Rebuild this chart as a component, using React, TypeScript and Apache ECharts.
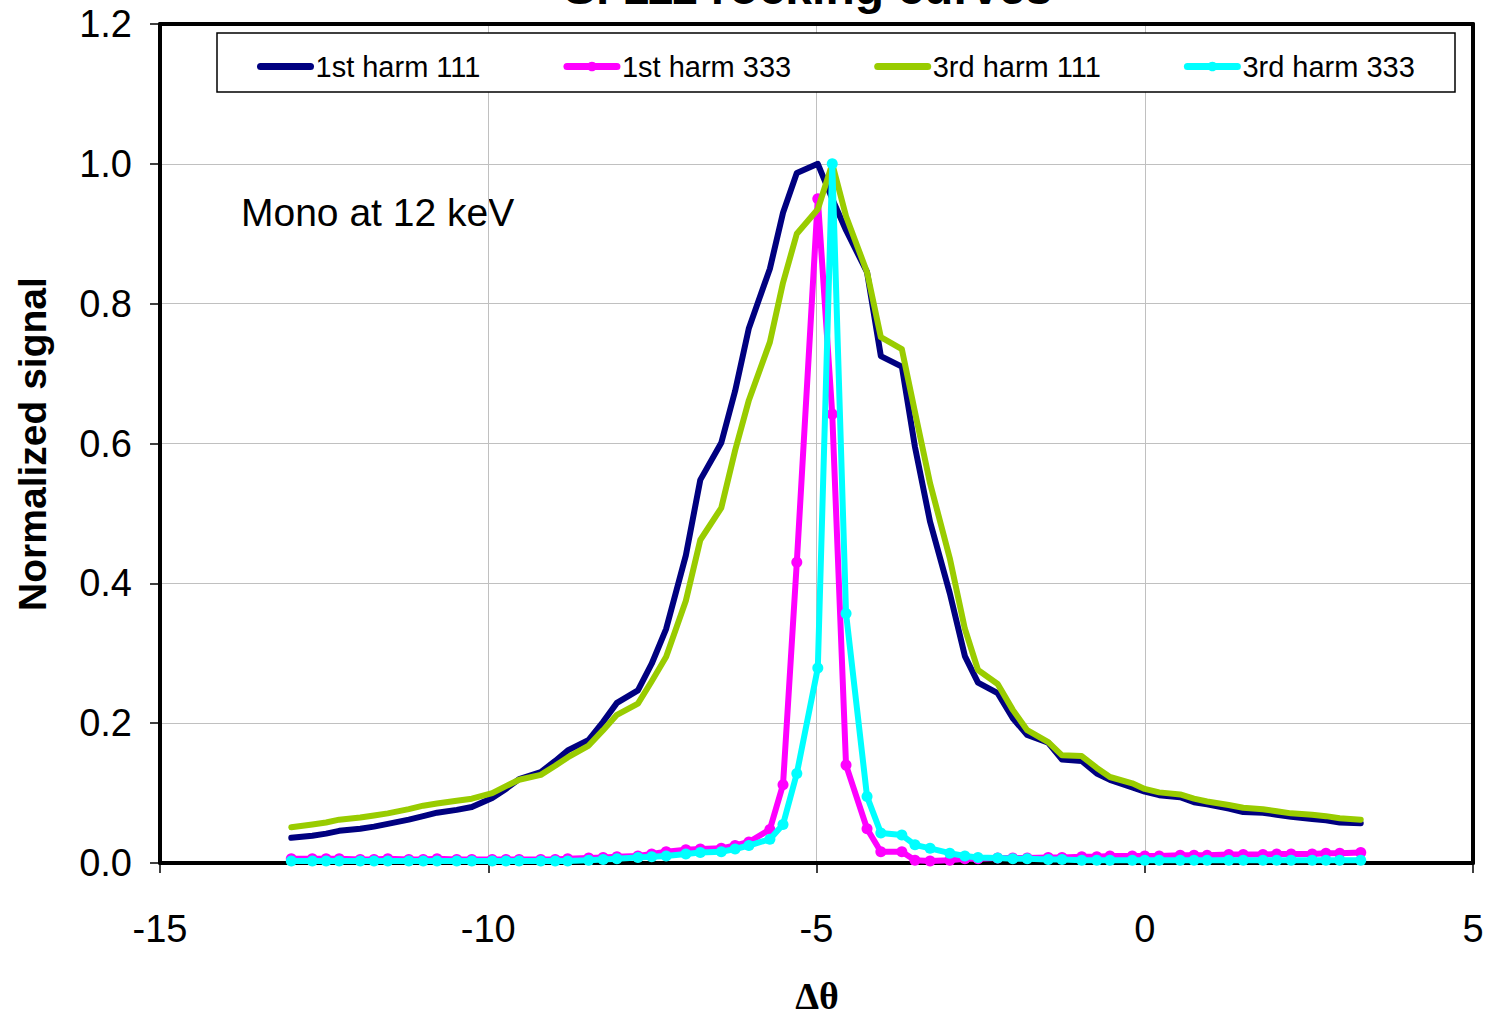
import React, { useEffect, useRef } from "react";
import * as echarts from "echarts";

const TITLE = "Si 111 rocking curves";
const ANNOTATION = "Mono at 12 keV";
const X_NAME = "Δθ";
const Y_NAME = "Normalized signal";
const SERIES_NAMES = ["1st harm 111", "1st harm 333", "3rd harm 111", "3rd harm 333"];
const SERIES_COLORS = ["#000080", "#FF00FF", "#99CC00", "#00FFFF"];
const SERIES_MARKERS = [false, true, false, true];

const X_TICKS_MIN = -15;
const X_TICKS_MAX = 5;
const X_TICK_STEP = 5;
const Y_TICKS_MIN = 0;
const Y_TICKS_MAX = 1.2;
const Y_TICK_STEP = 0.2;

const deltaTheta = [
  -13.0, -12.68, -12.47, -12.27, -11.95, -11.74, -11.53, -11.21, -10.99, -10.78,
  -10.48, -10.25, -9.94, -9.73, -9.53, -9.2, -8.98, -8.79, -8.47, -8.25,
  -8.04, -7.72, -7.51, -7.29, -6.99, -6.77, -6.45, -6.24, -6.03, -5.71,
  -5.51, -5.3, -4.98, -4.76, -4.55, -4.23, -4.02, -3.7, -3.5, -3.27,
  -2.97, -2.74, -2.54, -2.24, -2.01, -1.79, -1.47, -1.26, -0.96, -0.73,
  -0.53, -0.19, 0.0, 0.22, 0.54, 0.75, 0.95, 1.28, 1.5, 1.8,
  2.01, 2.23, 2.55, 2.76, 2.97, 3.29,
];

const harm1_111 = [
  0.036, 0.039, 0.042, 0.046, 0.049, 0.052, 0.056, 0.062, 0.067, 0.072,
  0.076, 0.08, 0.093, 0.106, 0.12, 0.13, 0.146, 0.161, 0.176, 0.202,
  0.229, 0.247, 0.285, 0.335, 0.44, 0.548, 0.601, 0.675, 0.765, 0.85,
  0.93, 0.987, 1.0, 0.95, 0.905, 0.845, 0.725, 0.71, 0.595, 0.488,
  0.386, 0.296, 0.258, 0.243, 0.207, 0.183, 0.172, 0.148, 0.146, 0.128,
  0.119, 0.108, 0.102, 0.097, 0.094, 0.087, 0.084, 0.078, 0.073, 0.072,
  0.069, 0.066, 0.063, 0.061, 0.058, 0.057,
];

const harm1_333 = [
  0.006, 0.006, 0.006, 0.006, 0.005, 0.005, 0.006, 0.005, 0.005, 0.006,
  0.005, 0.005, 0.005, 0.005, 0.005, 0.005, 0.005, 0.006, 0.007, 0.008,
  0.009, 0.01, 0.013, 0.016, 0.019, 0.02, 0.021, 0.025, 0.03, 0.048,
  0.112, 0.43, 0.95, 0.642, 0.14, 0.049, 0.016, 0.016, 0.004, 0.003,
  0.004, 0.006, 0.006, 0.007, 0.007, 0.007, 0.008, 0.008, 0.009, 0.009,
  0.01, 0.01, 0.01, 0.01, 0.011, 0.011, 0.011, 0.012, 0.012, 0.012,
  0.013, 0.013, 0.013, 0.014, 0.014, 0.015,
];

const harm3_111 = [
  0.051, 0.055, 0.058, 0.062, 0.065, 0.068, 0.071, 0.077, 0.082, 0.085,
  0.089, 0.092, 0.1, 0.11, 0.119, 0.126, 0.139, 0.151, 0.168, 0.19,
  0.212, 0.228, 0.26, 0.295, 0.375, 0.462, 0.508, 0.59, 0.662, 0.745,
  0.83, 0.9, 0.935, 1.0, 0.925, 0.845, 0.752, 0.735, 0.645, 0.543,
  0.436, 0.335, 0.276, 0.256, 0.219, 0.19, 0.173, 0.154, 0.153, 0.136,
  0.123, 0.114, 0.106, 0.101, 0.098, 0.092, 0.088, 0.083, 0.079, 0.077,
  0.074, 0.071, 0.069, 0.067, 0.064, 0.062,
];

const harm3_333 = [
  0.003, 0.003, 0.003, 0.003, 0.003, 0.003, 0.003, 0.003, 0.003, 0.003,
  0.003, 0.003, 0.003, 0.003, 0.003, 0.003, 0.003, 0.003, 0.004, 0.005,
  0.006, 0.008, 0.009, 0.01, 0.013, 0.015, 0.016, 0.02, 0.025, 0.034,
  0.055, 0.128, 0.279, 1.0, 0.357, 0.095, 0.043, 0.04, 0.026, 0.021,
  0.014, 0.01, 0.008, 0.007, 0.006, 0.006, 0.005, 0.005, 0.004, 0.004,
  0.004, 0.004, 0.004, 0.004, 0.004, 0.004, 0.004, 0.004, 0.004, 0.004,
  0.004, 0.004, 0.004, 0.004, 0.004, 0.004,
];

const SERIES_VALUES = [harm1_111, harm1_333, harm3_111, harm3_333];

const SANS = '"Liberation Sans", Arial, sans-serif';
const SERIF = '"Liberation Serif", "Times New Roman", serif';

export default function App() {
  const ref = useRef<HTMLDivElement | null>(null);

  useEffect(() => {
    if (!ref.current) return;
    const chart = echarts.init(ref.current, undefined, { renderer: "svg" });

    const series = SERIES_NAMES.map((name, i) => ({
      name,
      type: "line",
      xAxisIndex: 0,
      yAxisIndex: 0,
      data: deltaTheta.map((x, j) => [x, SERIES_VALUES[i][j]]),
      symbol: SERIES_MARKERS[i] ? "circle" : "none",
      symbolSize: 11,
      showSymbol: SERIES_MARKERS[i],
      showAllSymbol: true,
      lineStyle: { color: SERIES_COLORS[i], width: 6, cap: "round", join: "round" },
      itemStyle: { color: SERIES_COLORS[i] },
      emphasis: { disabled: true },
      z: 2 + i,
    }));

    const legendData = SERIES_NAMES.map((name, i) =>
      SERIES_MARKERS[i]
        ? { name }
        : { name, itemStyle: { color: "rgba(0,0,0,0)", borderWidth: 0 } }
    );

    const frameAxis = {
      type: "value",
      axisLine: { show: true, onZero: false, lineStyle: { color: "#000", width: 4 } },
      axisTick: { show: false },
      axisLabel: { show: false },
      splitLine: { show: false },
    };

    chart.setOption({
      animation: false,
      backgroundColor: "#ffffff",
      grid: {
        left: 160,
        top: 24,
        width: 1313,
        height: 839,
        show: false,
        containLabel: false,
      },
      xAxis: [
        {
          type: "value",
          position: "bottom",
          min: X_TICKS_MIN,
          max: X_TICKS_MAX,
          interval: X_TICK_STEP,
          axisLine: { show: true, onZero: false, lineStyle: { color: "#000", width: 4 } },
          axisTick: { show: true, length: 10, lineStyle: { color: "#000", width: 1.5 } },
          axisLabel: { fontSize: 38, color: "#000", fontFamily: SANS, margin: 47 },
          splitLine: { show: true, lineStyle: { color: "#C0C0C0", width: 1 } },
        },
        { ...frameAxis, position: "top", min: X_TICKS_MIN, max: X_TICKS_MAX, interval: X_TICK_STEP },
      ],
      yAxis: [
        {
          type: "value",
          position: "left",
          min: Y_TICKS_MIN,
          max: Y_TICKS_MAX,
          interval: Y_TICK_STEP,
          axisLine: { show: true, onZero: false, lineStyle: { color: "#000", width: 4 } },
          axisTick: { show: true, length: 10, lineStyle: { color: "#000", width: 1.5 } },
          axisLabel: {
            fontSize: 38,
            color: "#000",
            fontFamily: SANS,
            margin: 28,
            formatter: (v: number) => v.toFixed(1),
          },
          splitLine: { show: true, lineStyle: { color: "#C0C0C0", width: 1 } },
        },
        { ...frameAxis, position: "right", min: Y_TICKS_MIN, max: Y_TICKS_MAX, interval: Y_TICK_STEP },
      ],
      legend: {
        show: true,
        data: legendData,
        left: 257,
        top: 52,
        padding: 0,
        itemWidth: 50,
        itemHeight: 12,
        itemGap: 83,
        lineStyle: { width: 7, cap: "round" },
        textStyle: { fontSize: 29, color: "#000", fontFamily: SANS },
        z: 5,
      },
      graphic: [
        {
          type: "rect",
          z: 3,
          shape: { x: 217, y: 33, width: 1238, height: 59 },
          style: { fill: "#ffffff", stroke: "#000", lineWidth: 1.5 },
        },
        {
          type: "text",
          x: 808,
          y: -13,
          style: {
            text: TITLE,
            font: `bold 48px ${SANS}`,
            fill: "#000",
            align: "center",
            verticalAlign: "middle",
          },
        },
        {
          type: "text",
          x: 241,
          y: 212,
          style: {
            text: ANNOTATION,
            font: `39px ${SANS}`,
            fill: "#000",
            align: "left",
            verticalAlign: "middle",
          },
        },
        {
          type: "text",
          x: 32,
          y: 444,
          rotation: Math.PI / 2,
          style: {
            text: Y_NAME,
            font: `bold 39px ${SANS}`,
            fill: "#000",
            align: "center",
            verticalAlign: "middle",
          },
        },
        {
          type: "text",
          x: 817,
          y: 996,
          style: {
            text: X_NAME,
            font: `bold 38px ${SERIF}`,
            fill: "#000",
            align: "center",
            verticalAlign: "middle",
          },
        },
      ],
      series,
    });

    return () => {
      chart.dispose();
    };
  }, []);

  return (
    <div
      ref={ref}
      style={{ position: "absolute", left: 0, top: 0, width: 1487, height: 1017, background: "#fff" }}
    />
  );
}
